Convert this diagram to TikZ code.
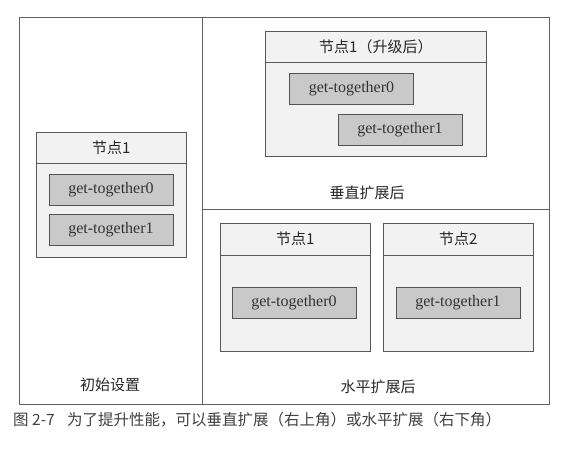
\documentclass[tikz,border=0pt]{standalone}
\usepackage{fontspec}
\setmainfont{Liberation Serif}
\newfontfamily\cjk{Noto Sans CJK SC}
\usetikzlibrary{positioning}

\begin{document}
\begin{tikzpicture}[x=1pt, y=-1pt,
    frame/.style={draw=gray!75!black, line width=0.9pt},
    server/.style={fill=gray!10, draw=gray!70!black, line width=0.8pt, anchor=north west, inner sep=0pt},
    shard/.style={fill=gray!42, draw=gray!65!black, line width=0.8pt, minimum width=124pt, minimum height=31pt, inner sep=0pt, text=black!80, font=\fontsize{16}{16}\selectfont},
    title/.style={text=black!85, font=\cjk\fontsize{15}{15}\selectfont}]
    \useasboundingbox (0,0) rectangle (582,453);
    % outer frame and panels
    \draw[frame] (19,17) rectangle (549,404);
    \draw[frame] (202,17) -- (202,404);
    \draw[frame] (202,209) -- (549,209);
    % initial node
    \node[server, minimum width=150pt, minimum height=125pt] (init) at (36,132) {};
    \draw[draw=gray!70!black, line width=0.8pt] ([yshift=-31pt]init.north west) -- ([yshift=-31pt]init.north east);
    \node[title] (initname) at ([yshift=-15.5pt]init.north) {节点1};
    \node[shard] (initA) at (111,189.5) {get-together0};
    \node[shard] (initB) at (111,230) {get-together1};
    \node[title] (initlabel) at (110,385) {初始设置};
    % vertical scaling
    \node[server, minimum width=221pt, minimum height=125pt] (vert) at (265,31) {};
    \draw[draw=gray!70!black, line width=0.8pt] ([yshift=-31pt]vert.north west) -- ([yshift=-31pt]vert.north east);
    \node[title] (vertname) at ([yshift=-15.5pt]vert.north) {节点1（升级后）};
    \node[shard] (vertA) at (351.5,89) {get-together0};
    \node[shard] (vertB) at (400,129.5) {get-together1};
    \node[title] (vertlabel) at (367,193) {垂直扩展后};
    % horizontal scaling
    \node[server, minimum width=150pt, minimum height=128pt] (horA) at (220,223) {};
    \draw[draw=gray!70!black, line width=0.8pt] ([yshift=-32pt]horA.north west) -- ([yshift=-32pt]horA.north east);
    \node[title] (horAname) at ([yshift=-16pt]horA.north) {节点1};
    \node[shard] (horAshard) at (294,302.5) {get-together0};
    \node[server, minimum width=150pt, minimum height=128pt] (horB) at (383,223) {};
    \draw[draw=gray!70!black, line width=0.8pt] ([yshift=-32pt]horB.north west) -- ([yshift=-32pt]horB.north east);
    \node[title] (horBname) at ([yshift=-16pt]horB.north) {节点2};
    \node[shard] (horBshard) at (458,302.5) {get-together1};
    \node[title] (horlabel) at (378,387) {水平扩展后};
    % caption
    \node[anchor=west, inner sep=0pt, text=black!75, font=\cjk\fontsize{15.5}{15.5}\selectfont] (caption) at (13,420) {图 2-7\hspace{0.8em}为了提升性能，可以垂直扩展（右上角）或水平扩展（右下角）};
\end{tikzpicture}
\end{document}
